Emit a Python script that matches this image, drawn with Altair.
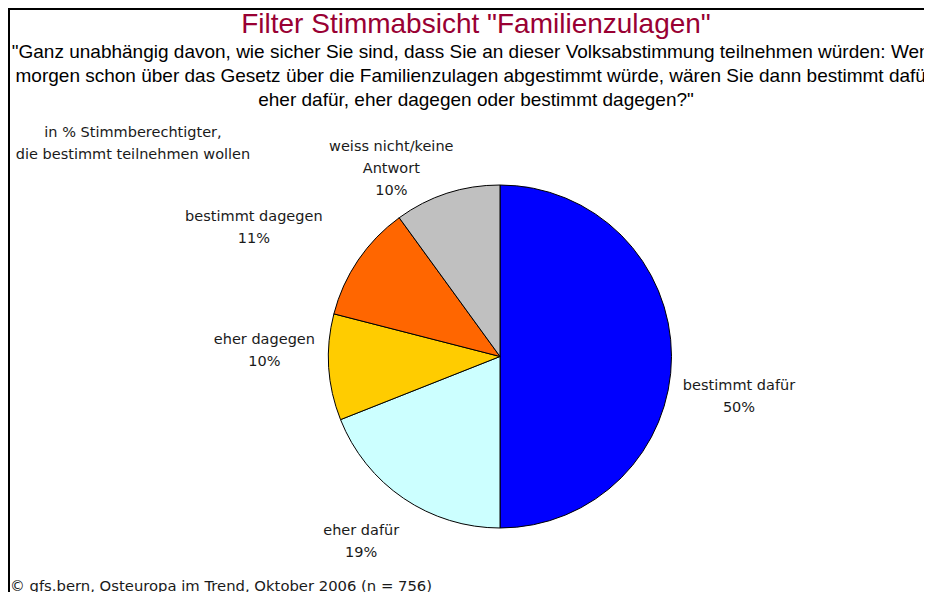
import altair as alt
import pandas as pd

# ---- data ----
categories = ["bestimmt dafür", "eher dafür", "eher dagegen", "bestimmt dagegen", "weiss nicht/keine Antwort"]
label_lines = ["bestimmt dafür", "eher dafür", "eher dagegen", "bestimmt dagegen", "weiss nicht/keine\nAntwort"]
values = [50, 19, 10, 11, 10]
colors = ["#0000FF", "#CCFFFF", "#FFCC00", "#FF6600", "#C0C0C0"]

title_text = 'Filter Stimmabsicht "Familienzulagen"'
subtitle_lines = [
    '"Ganz unabhängig davon, wie sicher Sie sind, dass Sie an dieser Volksabstimmung teilnehmen würden: Wenn',
    'morgen schon über das Gesetz über die Familienzulagen abgestimmt würde, wären Sie dann bestimmt dafür,',
    'eher dafür, eher dagegen oder bestimmt dagegen?"',
]
note_lines = ["in % Stimmberechtigter,", "die bestimmt teilnehmen wollen"]
footer_text = "© gfs.bern, Osteuropa im Trend, Oktober 2006 (n = 756)"

df = pd.DataFrame({
    "cat": categories,
    "value": values,
    "order": list(range(len(categories))),
    "label": [f"{l}\n{v}%" for l, v in zip(label_lines, values)],
})
df["mid"] = df["value"].cumsum() - df["value"] / 2

# ---- layout ----
W, H = 916, 584
CX, CY = 492, 348.5
R = 171.5
LABEL_R = 190
# (dx, dy) offsets of each label block's first line from its polar anchor
label_offsets = [(49, 29), (-32, 17.5), (-46, -28.5), (-89, -32.5), (-50, -28.5)]

TITLEFONT = "Liberation Sans, Arial, sans-serif"
LABELFONT = "Tahoma, DejaVu Sans, sans-serif"
theta_scale = alt.Scale(domain=[0, 100])
one = pd.DataFrame({"a": [0]})

pie = alt.Chart(df).mark_arc(outerRadius=R, stroke="black", strokeWidth=1).encode(
    theta=alt.Theta("value:Q", stack=True, scale=theta_scale),
    color=alt.Color("cat:N", scale=alt.Scale(domain=categories, range=colors), legend=None),
    order=alt.Order("order:Q"),
    x=alt.value(CX),
    y=alt.value(CY),
)

label_layers = []
for cat, (dx, dy) in zip(categories, label_offsets):
    label_layers.append(
        alt.Chart(df).transform_filter(alt.datum.cat == cat).mark_text(
            font=LABELFONT, fontSize=14.5, lineBreak="\n", lineHeight=22,
            align="center", baseline="middle", dx=dx, dy=dy, color="#1a1a1a",
        ).encode(
            theta=alt.Theta("mid:Q", stack=None, scale=theta_scale),
            radius=alt.value(LABEL_R),
            text="label:N",
            x=alt.value(CX),
            y=alt.value(CY),
        )
    )

title = alt.Chart(one).mark_text(
    text=title_text, font=TITLEFONT, fontSize=28, color="#990033",
    align="center", baseline="alphabetic",
).encode(x=alt.value(468), y=alt.value(25))

subtitle = alt.Chart(one).mark_text(
    text=subtitle_lines, font=TITLEFONT, fontSize=19, lineHeight=24, color="black",
    align="center", baseline="alphabetic",
).encode(x=alt.value(468), y=alt.value(50))

note = alt.Chart(one).mark_text(
    text=note_lines, font=LABELFONT, fontSize=14.5, lineHeight=22, color="#1a1a1a",
    align="center", baseline="alphabetic",
).encode(x=alt.value(125), y=alt.value(129))

footer = alt.Chart(one).mark_text(
    text=footer_text, font=LABELFONT, fontSize=14.8, color="#1a1a1a",
    align="left", baseline="alphabetic",
).encode(x=alt.value(2), y=alt.value(583))

frame_top = alt.Chart(one).mark_rule(color="black", strokeWidth=2).encode(
    x=alt.value(0), x2=alt.value(W), y=alt.value(1))
frame_left = alt.Chart(one).mark_rule(color="black", strokeWidth=2).encode(
    x=alt.value(1), y=alt.value(0), y2=alt.value(H))

chart = alt.layer(
    frame_top, frame_left, pie, *label_layers, title, subtitle, note, footer
).properties(
    width=W, height=H, padding=0,
    autosize=alt.AutoSizeParams(type="none"),
    background="white",
).configure_view(stroke="transparent", strokeWidth=0)

chart.save("out.html", embed_options={"renderer": "svg", "actions": False})
